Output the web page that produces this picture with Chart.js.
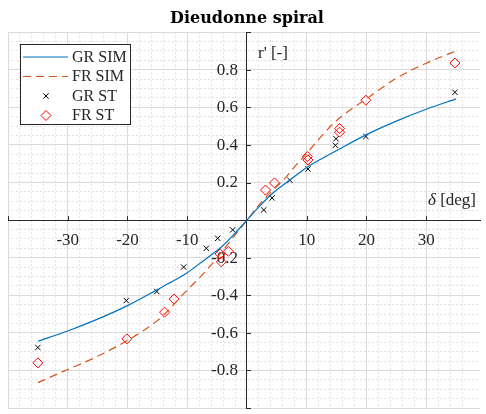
<!DOCTYPE html>
<html>
<head>
<meta charset="utf-8">
<script src="https://cdn.jsdelivr.net/npm/chart.js@4.4.1/dist/chart.umd.min.js"></script>
<style>
  html, body { margin: 0; padding: 0; background: #fff; }
  #wrap { width: 486px; height: 414px; }
</style>
</head>
<body>
<div id="wrap"><canvas id="spiral"></canvas></div>
<script>
// simulated curves
const grSimX = [-35, -30, -25, -20, -15, -12, -10, -8, -6, -4, -2, 0, 2, 4, 6, 8, 10, 12, 15, 20, 25, 30, 35];
const grSimY = [-0.645, -0.59, -0.527, -0.455, -0.37, -0.318, -0.28, -0.233, -0.186, -0.135, -0.07, 0,
                0.07, 0.135, 0.186, 0.233, 0.28, 0.318, 0.37, 0.455, 0.527, 0.59, 0.645];
const frSimX = [-35, -30, -25, -20, -15, -13, -11, -9, -7, -5, -4, -2, 0, 2, 4, 6, 8, 10, 12, 15, 20, 25, 30, 35];
const frSimY = [-0.865, -0.795, -0.725, -0.64, -0.535, -0.475, -0.405, -0.34, -0.275, -0.2, -0.16, -0.08, 0,
                0.08, 0.15, 0.21, 0.285, 0.355, 0.43, 0.53, 0.645, 0.755, 0.835, 0.9];

// measured points
const grStX = [-35, -20.2, -15.1, -10.6, -6.8, -4.9, -2.4, 2.8, 4.2, 7.2, 10.2, 14.8, 14.9, 19.9, 34.8];
const grStY = [-0.678, -0.428, -0.38, -0.25, -0.15, -0.097, -0.052, 0.054, 0.118, 0.212, 0.272, 0.398, 0.433, 0.445, 0.68];
const frStX = [-35, -20.1, -13.8, -12.2, -4.5, -4.3, -3.1, 3.1, 4.6, 10.1, 10.2, 15.5, 15.5, 19.9, 34.8];
const frStY = [-0.76, -0.632, -0.49, -0.42, -0.18, -0.222, -0.166, 0.16, 0.198, 0.338, 0.32, 0.487, 0.468, 0.638, 0.836];

const seriesNames = ['GR SIM', 'FR SIM', 'GR ST', 'FR ST'];
const xTickLabels = [-30, -20, -10, 10, 20, 30];
const yTickLabels = [-0.8, -0.6, -0.4, -0.2, 0.2, 0.4, 0.6, 0.8];

const BLUE = '#0072bd';
const ORANGE = '#d95319';
const RED = '#ff0000';
const INK = '#262626';
const SERIF = "'Liberation Serif', serif";

function pairs(xs, ys) {
  return xs.map((x, i) => ({ x: x, y: ys[i] }));
}
function onStep(v, step) {
  return Math.abs(v / step - Math.round(v / step)) < 1e-6;
}
function inList(v, list) {
  return list.some(t => Math.abs(t - v) < 1e-6);
}
function noPadding(scale) {
  scale.paddingLeft = 0; scale.paddingRight = 0;
  scale.paddingTop = 0; scale.paddingBottom = 0;
}

// tick marks, y tick labels, axis names and the boxed legend
const decorations = {
  id: 'decorations',
  beforeDatasetsDraw(chart) {
    const { ctx, scales: { x, y } } = chart;
    const x0 = x.getPixelForValue(0);
    const y0 = y.getPixelForValue(0);
    ctx.save();
    ctx.strokeStyle = INK;
    ctx.lineWidth = 1;
    ctx.beginPath();
    x.ticks.forEach(t => {
      if (!onStep(t.value, 10) || Math.abs(t.value) < 1e-6) return;
      const px = Math.round(x.getPixelForValue(t.value)) + 0.5;
      ctx.moveTo(px, y0); ctx.lineTo(px, y0 - 4);
    });
    y.ticks.forEach(t => {
      if (!onStep(t.value, 0.2) || Math.abs(t.value) < 1e-6) return;
      const py = Math.round(y.getPixelForValue(t.value)) + 0.5;
      ctx.moveTo(x0, py); ctx.lineTo(x0 + 4, py);
    });
    ctx.stroke();

    // y tick labels, left of the centred axis
    ctx.fillStyle = INK;
    ctx.font = '17px ' + SERIF;
    ctx.textAlign = 'right';
    ctx.textBaseline = 'middle';
    y.ticks.forEach(t => {
      if (!inList(t.value, yTickLabels)) return;
      ctx.fillText(t.value.toFixed(1), x0 - 9, y.getPixelForValue(t.value) + 0.5);
    });
    ctx.restore();
  },
  afterDraw(chart) {
    const { ctx, chartArea, scales: { x, y } } = chart;
    const x0 = x.getPixelForValue(0);
    const y0 = y.getPixelForValue(0);
    ctx.save();

    // axis names
    ctx.fillStyle = INK;
    ctx.textBaseline = 'alphabetic';
    ctx.font = '17px ' + SERIF;
    ctx.textAlign = 'left';
    ctx.fillText("r' [-]", x0 + 11, chartArea.top + 25.5);
    const unit = ' [deg]';
    const uw = ctx.measureText(unit).width;
    const rx = chartArea.right - 4;
    ctx.textAlign = 'right';
    ctx.fillText(unit, rx, y0 - 15);
    ctx.font = 'italic 17px ' + SERIF;
    ctx.fillText('\u03b4', rx - uw, y0 - 15);

    // legend box
    const lx = 20, ly = 44, lw = 110, lh = 80;
    ctx.fillStyle = '#fff';
    ctx.fillRect(lx, ly, lw, lh);
    ctx.strokeStyle = INK;
    ctx.lineWidth = 1;
    ctx.strokeRect(lx + 0.5, ly + 0.5, lw, lh);

    const rows = [57, 76.5, 96, 115.5];
    const sx1 = 23, sx2 = 68, mx = 46;
    chart.data.datasets.forEach((ds, i) => {
      const ry = rows[i];
      ctx.save();
      if (ds.showLine !== false) {
        ctx.strokeStyle = ds.borderColor;
        ctx.lineWidth = ds.borderWidth;
        ctx.setLineDash(ds.borderDash || []);
        ctx.beginPath();
        ctx.moveTo(sx1, ry); ctx.lineTo(sx2, ry);
        ctx.stroke();
      } else {
        ctx.strokeStyle = ds.pointBorderColor;
        ctx.lineWidth = ds.pointBorderWidth;
        ctx.beginPath();
        const r = ds.pointRadius;
        if (ds.pointStyle === 'crossRot') {
          const d = r * Math.SQRT1_2;
          ctx.moveTo(mx - d, ry - d); ctx.lineTo(mx + d, ry + d);
          ctx.moveTo(mx - d, ry + d); ctx.lineTo(mx + d, ry - d);
        } else {
          ctx.moveTo(mx, ry - r); ctx.lineTo(mx + r, ry);
          ctx.lineTo(mx, ry + r); ctx.lineTo(mx - r, ry);
          ctx.closePath();
        }
        ctx.stroke();
      }
      ctx.restore();
      ctx.fillStyle = INK;
      ctx.font = '16px ' + SERIF;
      ctx.textAlign = 'left';
      ctx.textBaseline = 'middle';
      ctx.fillText(ds.label, 72, ry + 0.5);
    });
    ctx.restore();
  }
};

Chart.defaults.font.family = SERIF;
Chart.defaults.color = INK;

new Chart(document.getElementById('spiral'), {
  type: 'scatter',
  data: {
    datasets: [
      {
        label: seriesNames[0],
        data: pairs(grSimX, grSimY),
        showLine: true,
        borderColor: BLUE,
        borderWidth: 1.2,
        pointRadius: 0,
        cubicInterpolationMode: 'monotone'
      },
      {
        label: seriesNames[1],
        data: pairs(frSimX, frSimY),
        showLine: true,
        borderColor: ORANGE,
        borderWidth: 1.2,
        borderDash: [8, 5],
        pointRadius: 0,
        cubicInterpolationMode: 'monotone'
      },
      {
        label: seriesNames[2],
        data: pairs(grStX, grStY),
        showLine: false,
        pointStyle: 'crossRot',
        pointRadius: 3.8,
        pointBorderColor: '#000',
        pointBorderWidth: 1,
        pointBackgroundColor: 'rgba(0,0,0,0)'
      },
      {
        label: seriesNames[3],
        data: pairs(frStX, frStY),
        showLine: false,
        pointStyle: 'rectRot',
        pointRadius: 5,
        pointBorderColor: RED,
        pointBorderWidth: 1,
        pointBackgroundColor: 'rgba(0,0,0,0)'
      }
    ]
  },
  options: {
    responsive: true,
    maintainAspectRatio: false,
    animation: false,
    layout: { padding: { left: 8, right: 0, top: 0, bottom: 1 } },
    plugins: {
      legend: { display: false },
      tooltip: { enabled: false },
      title: {
        display: true,
        text: 'Dieudonne spiral',
        color: '#000',
        font: { family: "'DejaVu Serif', serif", size: 16, weight: 'bold' },
        padding: { top: 9, bottom: 4 }
      }
    },
    scales: {
      x: {
        type: 'linear',
        position: { y: 0 },
        min: -40,
        max: 39,
        afterBuildTicks: s => { s.ticks = s.ticks.filter(t => onStep(t.value, 2)); },
        afterFit: noPadding,
        ticks: {
          stepSize: 2,
          autoSkip: false,
          maxRotation: 0,
          padding: 10,
          font: { size: 17 },
          color: INK,
          callback: v => inList(v, xTickLabels) ? String(Math.round(v)) : ''
        },
        grid: {
          drawTicks: false,
          color: c => (c.tick && onStep(c.tick.value, 10)) ? '#dadada' : '#e3e3e3'
        },
        border: {
          color: INK,
          width: 1,
          dash: c => (c.tick && !onStep(c.tick.value, 10)) ? [2, 2] : []
        }
      },
      y: {
        type: 'linear',
        position: { x: 0 },
        min: -1,
        max: 1,
        afterFit: noPadding,
        ticks: {
          stepSize: 0.05,
          autoSkip: false,
          display: false
        },
        grid: {
          drawTicks: false,
          color: c => (c.tick && onStep(c.tick.value, 0.2)) ? '#dadada' : '#e3e3e3'
        },
        border: {
          color: INK,
          width: 1,
          dash: c => (c.tick && !onStep(c.tick.value, 0.2)) ? [2, 2] : []
        }
      }
    }
  },
  plugins: [decorations]
});
</script>
</body>
</html>
